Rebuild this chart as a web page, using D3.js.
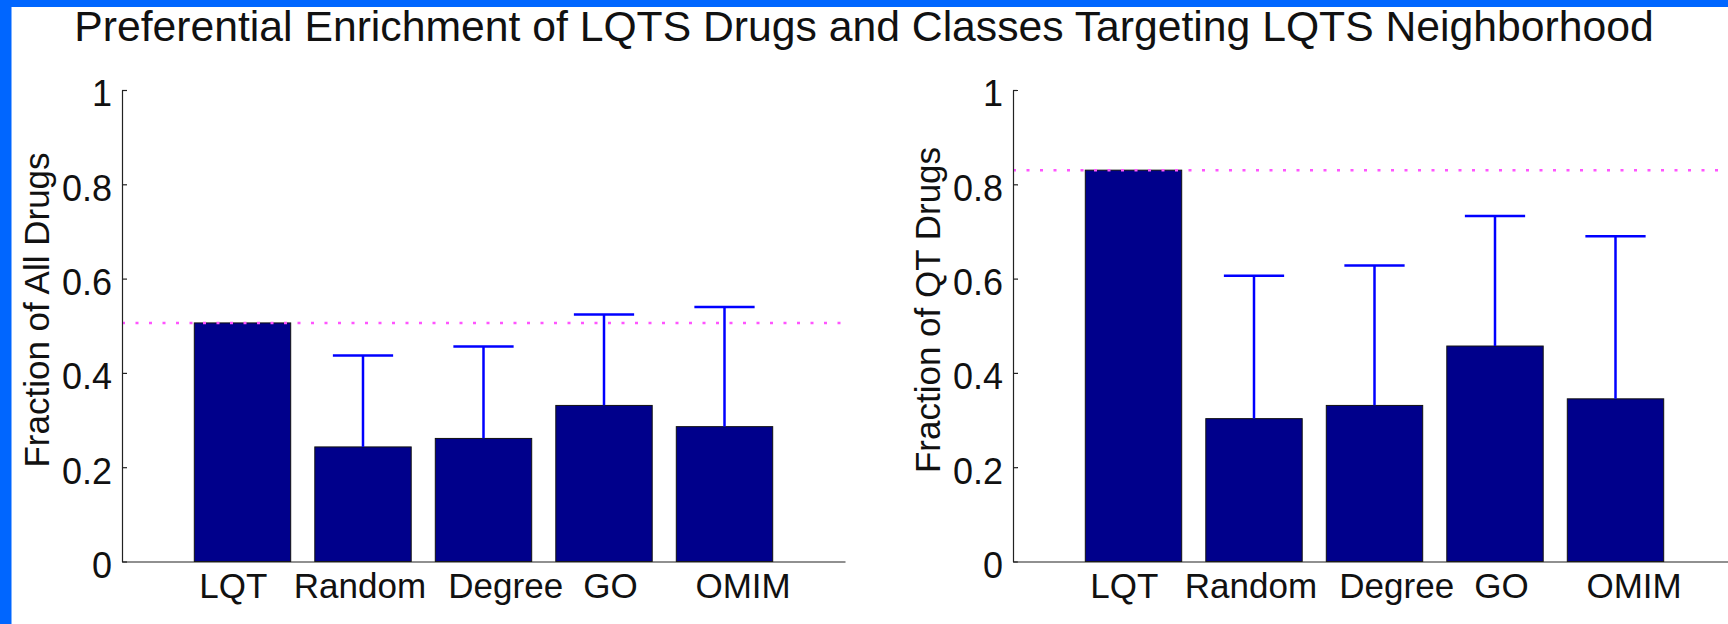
<!DOCTYPE html>
<html>
<head>
<meta charset="utf-8">
<script src="https://cdn.jsdelivr.net/npm/d3@7"></script>
<style>
  html, body { margin: 0; padding: 0; background: #fff; overflow: hidden; }
  svg { display: block; font-family: "Liberation Sans", Arial, Helvetica, sans-serif; }
</style>
</head>
<body>
<div id="chart"></div>
<script>
const WIDTH = 1728;
const HEIGHT = 624;

const title = 'Preferential Enrichment of LQTS Drugs and Classes Targeting LQTS Neighborhood';
const categories = ['LQT', 'Random', 'Degree', 'GO', 'OMIM'];
// label anchors in category units (labels sit slightly off the bar centres in the original)
const labelAt = [0.92, 1.97, 3.18, 4.05, 5.15];
const yTicks = [0, 0.2, 0.4, 0.6, 0.8, 1];

// left panel: fraction of all drugs
const allDrugs = [0.506, 0.243, 0.261, 0.331, 0.286];
const allDrugsErr = [0, 0.194, 0.195, 0.193, 0.254];

// right panel: fraction of QT drugs
const qtDrugs = [0.830, 0.303, 0.331, 0.457, 0.345];
const qtDrugsErr = [0, 0.303, 0.297, 0.276, 0.345];

const panels = [
  { left: 122, ylabel: 'Fraction of All Drugs', values: allDrugs, err: allDrugsErr },
  { left: 1013, ylabel: 'Fraction of QT Drugs', values: qtDrugs, err: qtDrugsErr }
];

const TOP = 90, BOTTOM = 561.5, UNIT = 120.5;

const svg = d3.select('#chart').append('svg')
  .attr('width', WIDTH)
  .attr('height', HEIGHT)
  .attr('viewBox', [0, 0, WIDTH, HEIGHT]);

svg.append('rect').attr('width', WIDTH).attr('height', HEIGHT).attr('fill', '#fff');

// blue frame strips (left + top)
svg.append('rect').attr('x', 0).attr('y', 0).attr('width', 11.5).attr('height', HEIGHT).attr('fill', '#0066ff');
svg.append('rect').attr('x', 0).attr('y', 0).attr('width', WIDTH).attr('height', 7).attr('fill', '#0066ff');

svg.append('text')
  .attr('x', WIDTH / 2)
  .attr('y', 40.5)
  .attr('text-anchor', 'middle')
  .attr('font-size', 42.7)
  .attr('fill', '#111')
  .text(title);

panels.forEach((p) => {
  const x = d3.scaleLinear().domain([0, 6]).range([p.left, p.left + 6 * UNIT]);
  const y = d3.scaleLinear().domain([0, 1]).range([BOTTOM, TOP]);
  const g = svg.append('g');

  // bars
  g.append('g')
    .selectAll('rect')
    .data(p.values)
    .enter().append('rect')
    .attr('x', (d, i) => x(i + 1 - 0.4))
    .attr('width', (d, i) => x(i + 1.4) - x(i + 0.6))
    .attr('y', (d) => y(d))
    .attr('height', (d) => y(0) - y(d))
    .attr('fill', '#00008b')
    .attr('stroke', '#111')
    .attr('stroke-width', 1);

  // upper error bars (skip the LQT bar)
  const eb = g.append('g')
    .attr('stroke', '#0000ff')
    .attr('stroke-width', 2.5)
    .selectAll('g')
    .data(p.values.map((v, i) => ({ v, e: p.err[i], i })).filter((d) => d.e > 0))
    .enter().append('g');

  eb.append('line')
    .attr('x1', (d) => x(d.i + 1)).attr('x2', (d) => x(d.i + 1))
    .attr('y1', (d) => y(d.v)).attr('y2', (d) => y(d.v + d.e));

  eb.append('line')
    .attr('x1', (d) => x(d.i + 0.75)).attr('x2', (d) => x(d.i + 1.25))
    .attr('y1', (d) => y(d.v + d.e)).attr('y2', (d) => y(d.v + d.e));

  // dotted reference at the LQT level
  g.append('line')
    .attr('x1', x(0)).attr('x2', x(6))
    .attr('y1', y(p.values[0])).attr('y2', y(p.values[0]))
    .attr('stroke', '#ff55ff')
    .attr('stroke-width', 2.5)
    .attr('stroke-dasharray', '3 10.5');

  // y axis, ticks pointing inward
  const yAxis = g.append('g')
    .attr('transform', `translate(${p.left},0)`)
    .call(d3.axisLeft(y).tickValues(yTicks).tickFormat(d3.format('~g'))
      .tickSizeInner(-5).tickSizeOuter(0).tickPadding(10));
  yAxis.selectAll('text').attr('font-size', 36).attr('fill', '#111').attr('dy', '0.44em');
  yAxis.selectAll('line, path').attr('stroke', '#222').attr('stroke-width', 1.2);
  yAxis.attr('font-family', null);

  // x axis
  const xAxis = g.append('g')
    .attr('transform', `translate(0,${BOTTOM})`)
    .call(d3.axisBottom(x).tickValues(labelAt).tickFormat((d, i) => categories[i])
      .tickSize(0).tickPadding(12));
  xAxis.selectAll('text').attr('font-size', 35).attr('fill', '#111');
  xAxis.selectAll('path').attr('stroke', '#222').attr('stroke-width', 1.2);
  xAxis.attr('font-family', null);

  g.append('text')
    .attr('transform', `translate(${p.left - 73},310) rotate(-90)`)
    .attr('text-anchor', 'middle')
    .attr('font-size', 35)
    .attr('fill', '#111')
    .text(p.ylabel);
});
</script>
</body>
</html>
